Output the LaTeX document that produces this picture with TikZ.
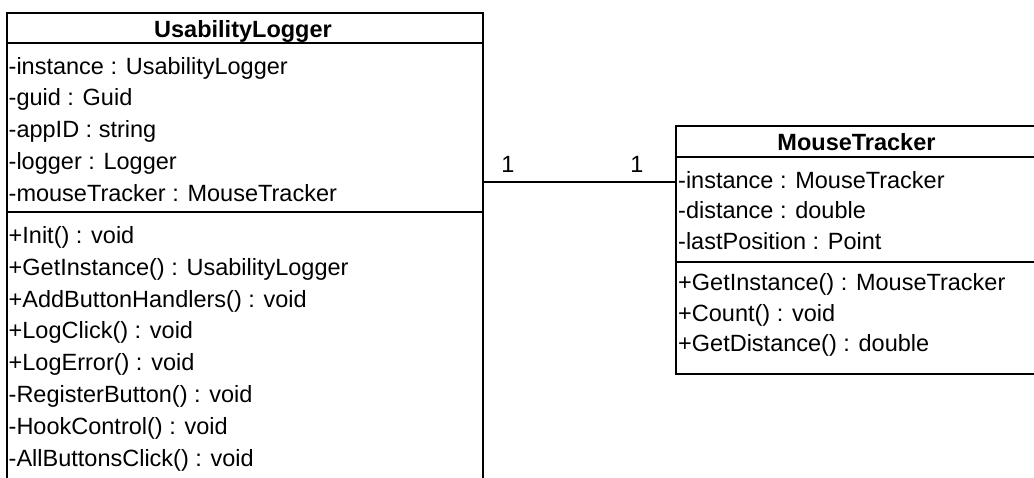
\documentclass[tikz,border=0pt]{standalone}
\usepackage{fontspec}
\setmainfont{Liberation Sans}
\begin{document}
\begin{tikzpicture}[x=1pt,y=-1pt,
  box/.style={draw, line width=1.8pt, rectangle, inner sep=0pt, anchor=north west},
  row/.style={anchor=base west, inner sep=0pt, font=\fontsize{23.5}{28}\selectfont},
  ttl/.style={anchor=base, inner sep=0pt, font=\bfseries\fontsize{23.5}{28}\selectfont},
  mult/.style={anchor=base, inner sep=0pt, font=\fontsize{23.5}{28}\selectfont},
  sepline/.style={line width=1.8pt}]
\useasboundingbox (0,0) rectangle (1034,477);
% UsabilityLogger
\node[box, minimum width=476pt, minimum height=490pt] (ul) at (6,12) {};
\draw[sepline] (ul.west |- {(0,43)}) -- (ul.east |- {(0,43)});
\draw[sepline] (ul.west |- {(0,212)}) -- (ul.east |- {(0,212)});
\node[ttl] (ult) at (243,37) {UsabilityLogger};
\node[row] (ua1) at (8.5,74) {-instance : UsabilityLogger};
\node[row] (ua2) at (8.5,105.8) {-guid : Guid};
\node[row] (ua3) at (8.5,137.6) {-appID : string};
\node[row] (ua4) at (8.5,169.4) {-logger : Logger};
\node[row] (ua5) at (8.5,201.2) {-mouseTracker : MouseTracker};
\node[row] (um1) at (8.5,243.2) {+Init() : void};
\node[row] (um2) at (8.5,275.1) {+GetInstance() : UsabilityLogger};
\node[row] (um3) at (8.5,307.0) {+AddButtonHandlers() : void};
\node[row] (um4) at (8.5,338.9) {+LogClick() : void};
\node[row] (um5) at (8.5,370.8) {+LogError() : void};
\node[row] (um6) at (8.5,402.7) {-RegisterButton() : void};
\node[row] (um7) at (8.5,434.6) {-HookControl() : void};
\node[row] (um8) at (8.5,466.5) {-AllButtonsClick() : void};
% MouseTracker
\node[box, minimum width=363pt, minimum height=248pt] (mt) at (675,125) {};
\draw[sepline] (mt.west |- {(0,157)}) -- (mt.east |- {(0,157)});
\draw[sepline] (mt.west |- {(0,262)}) -- (mt.east |- {(0,262)});
\node[ttl] (mtt) at (856.5,150) {MouseTracker};
\node[row] (ma1) at (678,188) {-instance : MouseTracker};
\node[row] (ma2) at (678,218.7) {-distance : double};
\node[row] (ma3) at (678,249.4) {-lastPosition : Point};
\node[row] (mm1) at (678,290.5) {+GetInstance() : MouseTracker};
\node[row] (mm2) at (678,321.2) {+Count() : void};
\node[row] (mm3) at (678,351.9) {+GetDistance() : double};
% association
\draw[sepline] (ul.east |- {(0,182)}) -- (mt.west |- {(0,182)});
\node[mult] (m1) at (508,172.7) {1};
\node[mult] (m2) at (637,172.7) {1};
\end{tikzpicture}
\end{document}
